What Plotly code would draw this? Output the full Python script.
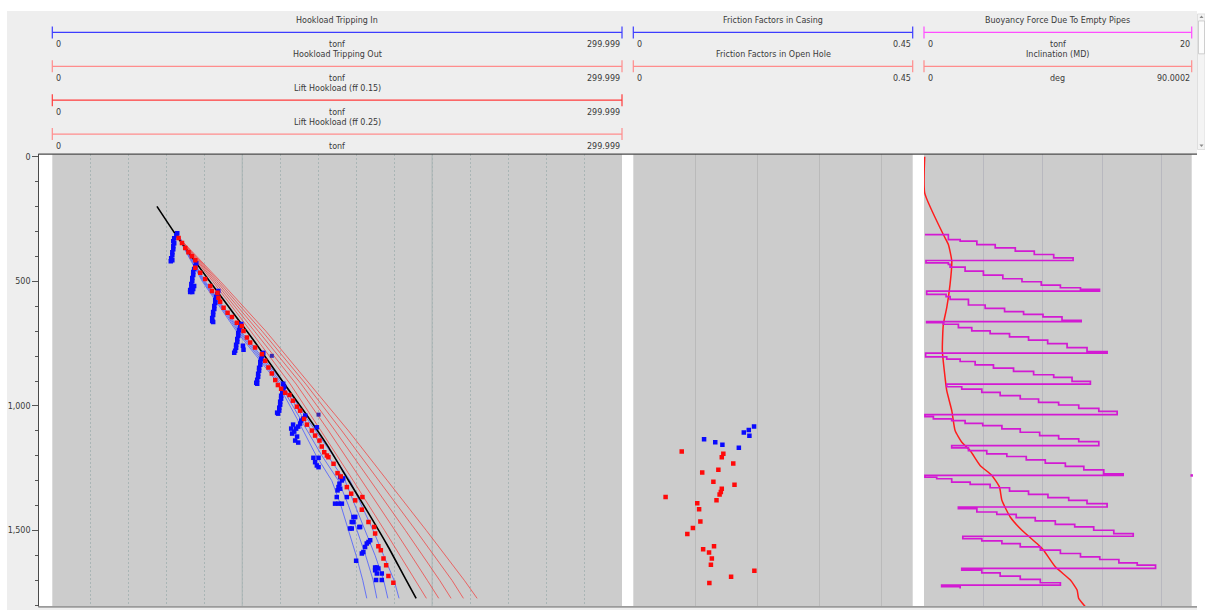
import plotly.graph_objects as go

W, H = 1205, 610

# ---------------- Track 1 : hookload (tonf) vs measured depth (m) ----------------
# reference hookload curve (ff = 0)
ref_depth = [199, 319, 539, 735, 906, 1032, 1160, 1299, 1430, 1560, 1680, 1772]
ref_load = [55.1, 65.6, 86.7, 105.9, 121.7, 133.6, 145.0, 156.0, 166.5, 176.5, 185.0, 191.6]

# tripping-out model curves for increasing friction factor
out_model_depth = [326, 500, 700, 912, 1100, 1300, 1500, 1700, 1772]
out_models = [
    [66.5, 84.5, 104.5, 125.3, 141.5, 158.5, 175.0, 191.5, 197.0],
    [66.6, 85.5, 106.5, 128.4, 145.5, 163.0, 180.5, 197.5, 203.5],
    [66.7, 86.5, 108.5, 131.1, 149.0, 167.5, 186.0, 204.0, 210.0],
    [66.8, 87.5, 110.5, 133.5, 152.5, 172.0, 191.5, 210.5, 216.5],
    [66.9, 88.5, 112.5, 135.8, 156.0, 176.5, 197.0, 217.0, 223.7],
]

# tripping-in model curves for increasing friction factor
in_model_depth = [300, 500, 700, 900, 1050, 1200, 1300, 1400, 1500, 1600, 1700, 1772]
in_models = [
    [64.5, 79.0, 97.0, 118.0, 128.8, 139.0, 147.2, 152.0, 156.0, 160.0, 163.5, 165.6],
    [64.8, 79.5, 97.8, 119.0, 130.5, 142.0, 150.7, 156.0, 160.5, 165.0, 169.0, 170.9],
    [65.0, 80.0, 98.5, 120.0, 132.3, 145.0, 154.2, 159.5, 164.5, 170.0, 174.5, 176.7],
    [65.3, 80.5, 99.2, 121.0, 134.0, 148.0, 156.8, 163.0, 169.0, 174.5, 180.0, 182.6],
]

# measured hookload tripping out
out_meas_depth = [325.6, 345.6, 365.6, 382.8, 398.8, 414.8, 445.6, 465.6, 490.8, 518.8,
                  538.8, 545.6, 565.6, 581.6, 605.6, 625.6, 642.8, 665.6, 678.8, 698.8,
                  725.6, 745.6, 765.6, 792.0, 818.8, 845.6, 869.6, 896.0, 916.0, 930.8,
                  946.8, 956.0, 978.8, 1002.8, 1018.8, 1052.0, 1074.8, 1098.8, 1118.8, 1138.8,
                  1162.8, 1185.6, 1198.8, 1205.6, 1232.0, 1269.6, 1282.8, 1325.6, 1352.0, 1365.6,
                  1378.8, 1416.0, 1465.6, 1485.6, 1512.0, 1562.8, 1578.8, 1612.0, 1638.8, 1682.8,
                  1709.6]
out_meas_load = [66.5, 68.3, 70.0, 71.7, 73.5, 75.3, 75.3, 77.9, 80.5, 83.2,
                 84.1, 87.0, 87.5, 88.4, 90.2, 92.3, 94.6, 97.2, 99.8, 100.7,
                 102.5, 104.2, 106.8, 110.4, 112.1, 113.8, 115.6, 117.4, 118.8, 120.5,
                 122.6, 124.9, 126.7, 128.8, 130.5, 132.6, 134.1, 136.7, 138.4, 140.7,
                 141.9, 143.2, 144.6, 145.4, 148.1, 150.2, 151.9, 155.1, 157.4, 163.3,
                 159.5, 163.0, 166.5, 169.5, 170.0, 171.7, 173.0, 174.4, 175.8, 177.0,
                 179.6]

# measured hookload tripping in (one streak per stand)
in_meas_depth = [
    307, 315, 327, 339, 347, 359, 371, 383, 395, 407, 419, 415,
    426.8, 438.8, 450.8, 462.8, 474.8, 486.8, 498.8, 510.8, 522.8, 534.8, 542.8, 530.8, 518.8, 542.8,
    538.8, 550.8, 562.8, 574.8, 586.8, 598.8, 610.8, 622.8, 634.8, 646.8, 658.8, 662.8,
    670.8, 682.8, 694.8, 706.8, 718.8, 730.8, 742.8, 754.8, 766.8, 778.8, 786.8, 758.8, 774.8,
    786.8, 798.8, 810.8, 822.8, 834.8, 846.8, 858.8, 870.8, 882.8, 894.8, 906.8, 910.8,
    910.8, 922.8, 934.8, 946.8, 958.8, 970.8, 982.8, 994.8, 1006.8, 1018.8, 1030.8, 1026.8,
    1038.8, 1050.8, 1058.8, 1070.8, 1082.8, 1090.8, 1102.8, 1110.8, 1122.8, 1138.8, 1146.8, 1090.8, 1074.8, 1085.6,
    1208, 1208, 1225.6, 1238.8, 1245.6,
    1285.6, 1298.8, 1312, 1325.6, 1332, 1338.8, 1365.6, 1392, 1392, 1392, 1365.6, 1290.8,
    1445.6, 1445.6, 1465.6, 1465.6, 1485.6, 1492, 1492, 1485.6,
    1545.6, 1552, 1565.6, 1585.6, 1592, 1621.6, 1538.8,
    1648, 1648, 1652, 1672, 1672, 1698.8, 1698.8, 1658.8,
]
in_meas_load = [
    65.8, 65.3, 64.2, 63.7, 64.2, 63.7, 63.7, 63.2, 63.2, 62.6, 62.4, 63.2,
    75.8, 75.3, 74.7, 74.2, 74.2, 73.7, 73.7, 73.2, 73.2, 72.6, 72.6, 74.2, 74.7, 73.7,
    87.4, 86.8, 86.3, 85.8, 85.8, 85.3, 85.3, 84.7, 84.7, 84.2, 84.2, 84.7,
    99.5, 98.9, 98.4, 97.9, 97.9, 97.4, 97.4, 96.8, 96.8, 96.3, 95.8, 100.4, 100.7,
    111.1, 110.5, 110.0, 109.5, 109.5, 108.9, 108.9, 108.4, 108.4, 107.9, 107.4, 107.9,
    121.6, 122.1, 121.6, 121.1, 120.5, 120.5, 120.0, 120.0, 119.5, 119.5, 118.9, 118.4,
    133.2, 132.1, 131.1, 130.5, 129.5, 128.4, 127.4, 126.3, 128.9, 127.9, 129.5, 125.8, 126.8, 139.3,
    137.5, 140.2, 138.4, 139.3, 140.2,
    151.6, 152.5, 151.2, 150.7, 151.6, 150.2, 149.8, 148.9, 150.7, 152.5, 155.1, 153.2,
    158.6, 159.5, 157.7, 158.6, 161.7, 156.8, 157.7, 162.1,
    166.5, 165.6, 164.7, 163.8, 163.0, 160.0, 167.4,
    170.0, 170.9, 171.7, 170.9, 173.5, 170.5, 173.5, 170.0,
]
overlap_depth = [798.8, 1034.8]
overlap_load = [115.6, 140.2]

# ---------------- Track 2 : friction factors ----------------
ff_casing_depth = [1082.8, 1096, 1106.8, 1120, 1133.6, 1145.6, 1156, 1168]
ff_casing = [0.1945, 0.186, 0.178, 0.187, 0.114, 0.132, 0.1435, 0.170]
ff_open_depth = [1182.8, 1192, 1205.6, 1230.8, 1256, 1266.8, 1304, 1316, 1332, 1345.6,
                 1354.8, 1365.6, 1378.8, 1390.8, 1414.8, 1464, 1489.6, 1513.6, 1562.8, 1574.8,
                 1588, 1612, 1637.6, 1661.6, 1685.6, 1710.8]
ff_open = [0.078, 0.145, 0.1425, 0.161, 0.137, 0.111, 0.129, 0.163, 0.1425, 0.141,
           0.139, 0.052, 0.134, 0.103, 0.106, 0.108, 0.096, 0.087, 0.130, 0.1125,
           0.122, 0.1265, 0.125, 0.195, 0.1575, 0.1225]

# ---------------- Track 3 : buoyancy (tonf) and inclination (deg) ----------------
buoy_depth = [
    312.1, 312.1, 332.1, 338.8, 352.1, 365.5, 378.8, 392.1, 405.5, 416.1,
    425.5, 432.1, 442.8, 458.8, 474.8, 489.5, 501.5, 514.8, 525.5, 532.1, 538.8,
    552.1, 561.5, 572.1, 594.8, 608.1, 621.5, 632.1, 642.8, 656.1, 661.5,
    665.5, 672.1, 685.5, 698.8, 709.5, 722.8, 736.1, 749.5, 765.5, 781.5, 788.1,
    802.8, 812.1, 821.5, 834.8, 848.1, 861.5, 874.8, 885.5, 901.5, 912.1,
    922.8, 932.1, 945.5, 958.8, 972.1, 985.5, 996.1, 1009.5, 1021.5, 1034.8,
    1042.8, 1052.1, 1058.8, 1069.5, 1078.8, 1092.1, 1105.5, 1118.8, 1132.1, 1142.8, 1158.8,
    1168.1, 1178.8, 1192.1, 1202.8, 1216.1, 1229.5, 1242.8, 1256.1, 1272.1, 1278.8,
    1286.0, 1292.1, 1305.5, 1314.8, 1328.1, 1341.5, 1354.8, 1368.1, 1378.8, 1392.1, 1405.5,
    1412.1, 1425.5, 1434.8, 1448.1, 1461.5, 1474.8, 1485.5, 1498.8, 1512.1, 1522.8,
    1532.1, 1541.5, 1552.1, 1565.5, 1578.8, 1592.1, 1605.5, 1616.1, 1629.5, 1638.8, 1652.1,
    1658.8, 1669.5, 1682.8, 1696.1, 1709.5, 1718.8, 1725.5, 1732.1,
]
buoy_force = [
    0.07, 1.82, 2.70, 3.95, 5.32, 6.82, 8.24, 9.69, 11.14, 0.15,
    1.82, 1.95, 3.07, 4.44, 5.89, 7.32, 8.76, 10.19, 11.69, 13.11, 0.20,
    1.65, 1.95, 3.32, 4.57, 6.02, 7.44, 8.89, 10.31, 11.74, 0.20,
    1.45, 2.57, 3.57, 4.94, 6.39, 7.81, 9.24, 10.69, 12.18, 13.68, 0.12,
    1.70, 2.70, 3.82, 5.19, 6.69, 8.19, 9.69, 11.06, 12.43, 1.70,
    2.82, 4.32, 5.69, 7.19, 8.56, 10.06, 11.56, 13.06, 14.43, 0.07,
    0.70, 2.07, 3.07, 4.39, 5.82, 7.19, 8.64, 10.06, 11.56, 13.06, 2.07,
    3.32, 4.69, 6.19, 7.64, 9.06, 10.56, 11.94, 13.43, 14.88, 0.07,
    0.95, 2.07, 3.45, 4.94, 6.39, 7.81, 9.26, 10.81, 12.18, 13.68, 2.57,
    3.95, 5.44, 6.89, 8.31, 9.81, 11.26, 12.68, 14.18, 15.63, 2.90,
    4.32, 5.82, 7.19, 8.69, 10.19, 11.69, 13.13, 14.56, 15.93, 17.30, 2.82,
    4.32, 5.69, 7.19, 8.69, 10.19, 1.32, 2.70, 2.70,
]
buoy_clip_depth = [1278.8]
buoy_clip_force = [20.0]

incl_depth = [0, 145.6, 312, 352, 418.8, 512, 605.6, 672, 778.8, 885.6, 938.8, 1018.8,
              1098.8, 1145.6, 1178.8, 1238.8, 1278.8, 1325.6, 1378.8, 1445.6, 1498.8,
              1552, 1578.8, 1645.6, 1698.8, 1738.8, 1772, 1805.6]
incl_deg = [0.24, 0.24, 6.5, 8.19, 9.34, 8.76, 7.65, 6.5, 6.17, 7.08, 7.65, 9.34,
            10.45, 12.71, 15.5, 18.87, 22.82, 25.38, 26.19, 28.99, 32.93,
            37.98, 40.21, 44.15, 49.21, 51.47, 52.0, 54.26]

# ---------------- helpers for the page layout (pixel -> paper) ----------------
def px(x):
    return x / W


def py(y):
    return 1 - y / H


TRACKS = {
    1: (52.3, 622.0),
    2: (633.3, 912.7),
    3: (924.0, 1191.7),
}
PLOT_TOP, PLOT_BOTTOM = 152.7, 606.7
AXIS_X = 38.3

BLUE_HDR = "#3c3cff"
PINK_HDR = "#ff8c8c"
RED_HDR = "#ff3a3a"
MAG_HDR = "#ff4dff"
TXT = "#3a3a3a"

fig = go.Figure()

# --- track 1 traces
for m in out_models:
    fig.add_trace(go.Scatter(x=m, y=out_model_depth, mode="lines",
                             line=dict(color="#f04848", width=0.8), xaxis="x", yaxis="y"))
for m in in_models:
    fig.add_trace(go.Scatter(x=m, y=in_model_depth, mode="lines",
                             line=dict(color="#4a5cff", width=0.8), xaxis="x", yaxis="y"))
fig.add_trace(go.Scatter(x=ref_load, y=ref_depth, mode="lines", line_shape="spline",
                         line=dict(color="#000000", width=1.6, smoothing=0.6), xaxis="x", yaxis="y"))
fig.add_trace(go.Scatter(x=in_meas_load, y=in_meas_depth, mode="markers",
                         marker=dict(symbol="square", size=4.5, color="#0a0aff"),
                         xaxis="x", yaxis="y"))
fig.add_trace(go.Scatter(x=out_meas_load, y=out_meas_depth, mode="markers",
                         marker=dict(symbol="square", size=4.5, color="#ff0a0a"),
                         xaxis="x", yaxis="y"))
fig.add_trace(go.Scatter(x=overlap_load, y=overlap_depth, mode="markers",
                         marker=dict(symbol="square", size=4, color="#3a2ab0"),
                         xaxis="x", yaxis="y"))

# --- track 2 traces
fig.add_trace(go.Scatter(x=ff_casing, y=ff_casing_depth, mode="markers",
                         marker=dict(symbol="square", size=4.5, color="#0a0aff"),
                         xaxis="x2", yaxis="y"))
fig.add_trace(go.Scatter(x=ff_open, y=ff_open_depth, mode="markers",
                         marker=dict(symbol="square", size=4.5, color="#ff0a0a"),
                         xaxis="x2", yaxis="y"))

# --- track 3 traces
fig.add_trace(go.Scatter(x=buoy_force, y=buoy_depth, mode="lines", line_shape="vh",
                         line=dict(color="#d21ad2", width=1.7), xaxis="x4", yaxis="y"))
fig.add_trace(go.Scatter(x=buoy_clip_force, y=buoy_clip_depth, mode="markers",
                         marker=dict(symbol="square", size=2.5, color="#d21ad2"),
                         cliponaxis=False, xaxis="x4", yaxis="y"))
fig.add_trace(go.Scatter(x=incl_deg, y=incl_depth, mode="lines", line_shape="spline",
                         line=dict(color="#ff1c1c", width=1.5, smoothing=0.5), xaxis="x3", yaxis="y"))

shapes = []
annotations = []


def rect(x0, y0, x1, y1, fill, line=None, lw=0):
    shapes.append(dict(type="rect", xref="paper", yref="paper", layer="below",
                       x0=px(x0), x1=px(x1), y0=py(y1), y1=py(y0),
                       fillcolor=fill, line=dict(color=line or fill, width=lw)))


def hline(x0, x1, y, color, width=1, layer="above"):
    shapes.append(dict(type="line", xref="paper", yref="paper", layer=layer,
                       x0=px(x0), x1=px(x1), y0=py(y), y1=py(y),
                       line=dict(color=color, width=width)))


def vline(x, y0, y1, color, width=1, layer="above"):
    shapes.append(dict(type="line", xref="paper", yref="paper", layer=layer,
                       x0=px(x), x1=px(x), y0=py(y0), y1=py(y1),
                       line=dict(color=color, width=width)))


def text(x, y, s, anchor="center", size=8):
    annotations.append(dict(xref="paper", yref="paper", x=px(x), y=py(y), text=s,
                            showarrow=False, xanchor=anchor, yanchor="middle",
                            font=dict(size=size, color=TXT, family="DejaVu Sans")))


# header panel and left margin panel
rect(7, 9, 1197, 152.5, "#eeeeee")
rect(7, 152.5, AXIS_X, 610, "#eeeeee")
rect(7, 607, 1197, 610, "#eeeeee")

# scale rows in the header
header_rows = [
    (1, 0, "Hookload Tripping In", "tonf", "0", "299.999", BLUE_HDR),
    (1, 1, "Hookload Tripping Out", "tonf", "0", "299.999", PINK_HDR),
    (1, 2, "Lift Hookload (ff 0.15)", "tonf", "0", "299.999", RED_HDR),
    (1, 3, "Lift Hookload (ff 0.25)", "tonf", "0", "299.999", PINK_HDR),
    (2, 0, "Friction Factors in Casing", "", "0", "0.45", BLUE_HDR),
    (2, 1, "Friction Factors in Open Hole", "", "0", "0.45", PINK_HDR),
    (3, 0, "Buoyancy Force Due To Empty Pipes", "tonf", "0", "20", MAG_HDR),
    (3, 1, "Inclination (MD)", "deg", "0", "90.0002", PINK_HDR),
]
for track, row, title, unit, lo, hi, color in header_rows:
    x0, x1 = TRACKS[track]
    xc = (x0 + x1) / 2
    yt = 18.5 + 34 * row
    yl = 30.5 + 34 * row
    yv = 42.5 + 34 * row
    text(xc, yt, title)
    hline(x0, x1, yl, color, 1.2)
    vline(x0, yl - 6, yl + 6, color, 1.2)
    vline(x1, yl - 6, yl + 6, color, 1.2)
    text(x0 + 2, yv, lo, anchor="left")
    if unit:
        text(xc, yv, unit)
    text(x1, yv, hi, anchor="right")

# scrollbar of the header panel
rect(1197.5, 12, 1205, 148, "#f4f4f4", "#d8d8d8", 0.8)
rect(1198.5, 19, 1204.5, 52, "#fcfcfc", "#c4c4c4", 0.8)
shapes.append(dict(type="path", xref="paper", yref="paper",
                   path=f"M {px(1199.5)} {py(16)} L {px(1203.5)} {py(16)} L {px(1201.5)} {py(13.5)} Z",
                   fillcolor="#8a8a8a", line=dict(width=0)))
shapes.append(dict(type="path", xref="paper", yref="paper",
                   path=f"M {px(1199.5)} {py(143)} L {px(1203.5)} {py(143)} L {px(1201.5)} {py(145.5)} Z",
                   fillcolor="#8a8a8a", line=dict(width=0)))

# frame of the log area
hline(AXIS_X, 1197, 152.6, "#4a4a4a", 1.3)
hline(AXIS_X, 1197, 606.9, "#9a9a9a", 1.6)

# solid major grid at 100 and 200 tonf in track 1
for v in (100, 200):
    shapes.append(dict(type="line", xref="x", yref="paper", layer="below",
                       x0=v, x1=v, y0=py(PLOT_BOTTOM), y1=py(PLOT_TOP),
                       line=dict(color="#aab4b4", width=1)))

common_x = dict(showticklabels=False, ticks="", showline=False, zeroline=False, fixedrange=True)

fig.update_layout(
    width=W, height=H,
    margin=dict(l=0, r=0, t=0, b=0),
    paper_bgcolor="#ffffff",
    plot_bgcolor="#cccccc",
    showlegend=False,
    font=dict(family="DejaVu Sans", size=8, color=TXT),
    xaxis=dict(domain=[px(TRACKS[1][0]), px(TRACKS[1][1])], range=[0, 299.999], anchor="y",
               showgrid=True, dtick=20, tick0=0, gridcolor="#a9b5b5", gridwidth=1,
               griddash="2px,2px", **common_x),
    xaxis2=dict(domain=[px(TRACKS[2][0]), px(TRACKS[2][1])], range=[0, 0.45], anchor="y",
                showgrid=True, dtick=0.1, tick0=0, gridcolor="#bababa", gridwidth=1, **common_x),
    xaxis3=dict(domain=[px(TRACKS[3][0]), px(TRACKS[3][1])], range=[0, 90.0002], anchor="y",
                showgrid=True, dtick=20, tick0=0, gridcolor="#b8b8bf", gridwidth=1, **common_x),
    xaxis4=dict(overlaying="x3", range=[0, 20], anchor="y", showgrid=False, **common_x),
    yaxis=dict(domain=[py(PLOT_BOTTOM), py(PLOT_TOP)], range=[1805.6, -10.4],
               anchor="free", position=px(AXIS_X), side="left",
               showgrid=False, zeroline=False, showline=True, linecolor="#4a4a4a", linewidth=1.3,
               tickmode="linear", tick0=0, dtick=500, tickformat=",d",
               ticks="outside", ticklen=6, tickcolor="#555555", tickwidth=1,
               tickfont=dict(size=8, color=TXT, family="DejaVu Sans"),
               minor=dict(dtick=100, ticks="outside", ticklen=3, tickcolor="#555555"),
               fixedrange=True),
    shapes=shapes,
    annotations=annotations,
)

fig.write_html("out.html", config={"displayModeBar": False})
